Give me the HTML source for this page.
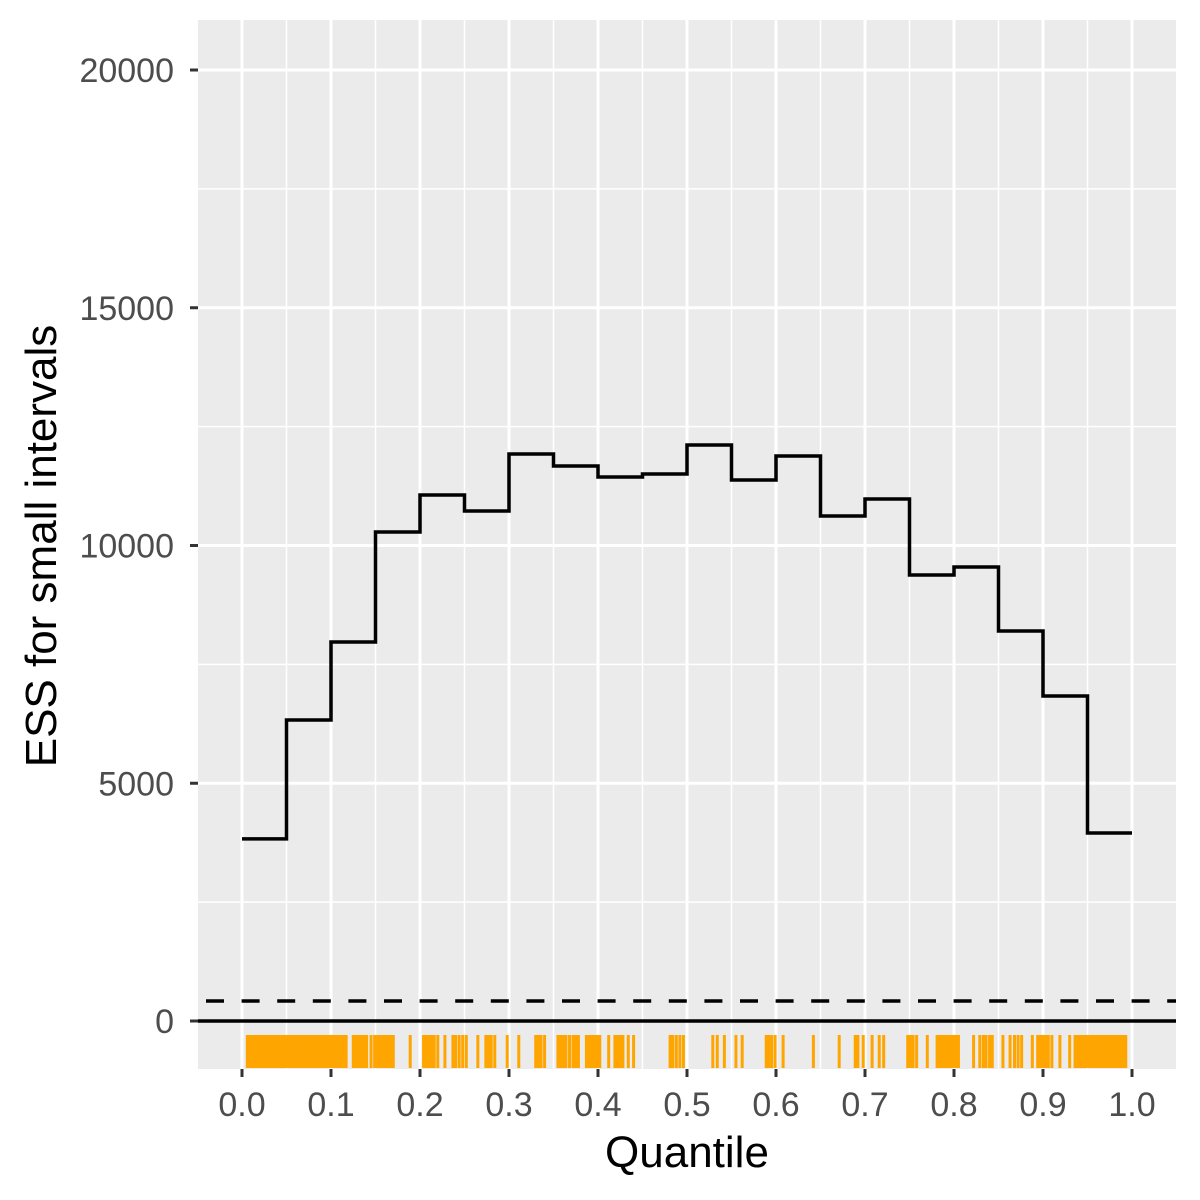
<!DOCTYPE html>
<html><head><meta charset="utf-8"><style>
html,body{margin:0;padding:0;background:#fff;}
svg{display:block;font-family:"Liberation Sans",sans-serif;}
</style></head><body>
<svg id="chart" width="1200" height="1200" viewBox="0 0 1200 1200" xmlns="http://www.w3.org/2000/svg">
<rect x="198" y="20" width="978" height="1049" fill="#ebebeb"/>
<g id="grid"></g>
<g id="marks"></g>
<g id="axes"></g>
<text x="687" y="1167" font-size="44" text-anchor="middle" fill="#000">Quantile</text>
<text transform="translate(56,546) rotate(-90)" font-size="44" text-anchor="middle" fill="#000">ESS for small intervals</text>
</svg>
<script>
const intervalStarts = [0,0.05,0.1,0.15,0.2,0.25,0.3,0.35,0.4,0.45,0.5,0.55,0.6,0.65,0.7,0.75,0.8,0.85,0.9,0.95];
const essValues = [3830,6330,7970,10284,11062,10726,11924,11672,11440,11504,12114,11377,11882,10620,10978,9380,9548,8202,6835,3954];
const thresholdValue = 420;
const xTicks = [0,0.1,0.2,0.3,0.4,0.5,0.6,0.7,0.8,0.9,1.0];
const xTickLabels = ["0.0","0.1","0.2","0.3","0.4","0.5","0.6","0.7","0.8","0.9","1.0"];
const yTicks = [0,5000,10000,15000,20000];
const yTickLabels = ["0","5000","10000","15000","20000"];
const rugValues = [
0.006,0.009,0.012,0.015,0.018,0.021,0.024,0.027,0.030,0.033,0.036,0.039,0.042,0.045,0.048,0.051,0.054,0.057,0.060,0.063,0.066,0.069,0.072,0.075,0.078,0.081,0.084,0.087,0.090,0.093,0.096,0.099,0.102,0.105,0.108,0.111,0.114,0.117,
0.125,0.128,0.131,0.134,0.137,0.140,0.145,0.149,0.152,0.155,0.158,0.161,0.164,0.167,0.170,0.189,
0.204,0.207,0.210,0.213,0.216,0.220,0.228,0.237,0.240,0.244,0.248,0.252,0.265,0.274,0.277,0.280,0.284,0.298,0.311,0.330,0.333,0.336,0.340,
0.355,0.358,0.361,0.364,0.368,0.372,0.375,0.378,0.387,0.390,0.393,0.396,0.399,0.402,0.412,0.419,0.422,0.425,0.428,0.434,0.440,
0.481,0.484,0.488,0.492,0.496,0.529,0.534,0.542,0.555,0.562,0.589,0.592,0.595,0.599,0.608,0.642,0.671,0.689,0.692,0.698,0.708,0.716,0.721,
0.748,0.751,0.754,0.758,0.770,0.781,0.784,0.787,0.790,0.793,0.796,0.799,0.802,0.805,0.822,0.829,0.833,0.836,0.840,0.843,0.855,0.863,0.868,0.872,0.876,0.888,
0.894,0.897,0.900,0.903,0.906,0.910,0.919,0.930,0.936,0.939,0.942,0.945,0.948,0.951,0.954,0.957,0.960,0.963,0.966,0.969,0.972,0.975,0.978,0.981,0.984,0.987,0.990,0.993
];
const NS="http://www.w3.org/2000/svg";
function xs(v){return 242+v*890;}
function ys(v){return 1021-v*0.04755;}
function mk(tag,attrs,parent){const e=document.createElementNS(NS,tag);for(const k in attrs)e.setAttribute(k,attrs[k]);parent.appendChild(e);return e;}
const grid=document.getElementById('grid'),marks=document.getElementById('marks'),axes=document.getElementById('axes');
for(let i=0;i<xTicks.length-1;i++){const v=(xTicks[i]+xTicks[i+1])/2;const l=mk('line',{x1:xs(v),x2:xs(v),y1:20,y2:1069,stroke:'#fff','stroke-width':1.5},grid);

}
for(let i=0;i<yTicks.length-1;i++){const v=(yTicks[i]+yTicks[i+1])/2;const l=mk('line',{x1:198,x2:1176,y1:ys(v),y2:ys(v),stroke:'#fff','stroke-width':1.5},grid);

}
xTicks.forEach((v,i)=>{const l=mk('line',{x1:xs(v),x2:xs(v),y1:20,y2:1069,stroke:'#fff','stroke-width':3},grid);


const t=mk('line',{x1:xs(v),x2:xs(v),y1:1069,y2:1077,stroke:'#333','stroke-width':3},axes);


const tx=mk('text',{x:xs(v),y:1116,'font-size':34,'text-anchor':'middle',fill:'#4d4d4d'},axes);tx.textContent=xTickLabels[i];

});
yTicks.forEach((v,i)=>{const l=mk('line',{x1:198,x2:1176,y1:ys(v),y2:ys(v),stroke:'#fff','stroke-width':3},grid);


const t=mk('line',{x1:190,x2:198,y1:ys(v),y2:ys(v),stroke:'#333','stroke-width':3},axes);


const tx=mk('text',{x:174,y:ys(v)+12,'font-size':34,'text-anchor':'end',fill:'#4d4d4d'},axes);tx.textContent=yTickLabels[i];

});
rugValues.forEach(v=>{const r=mk('line',{x1:xs(v),x2:xs(v),y1:1035,y2:1068,stroke:'#ffa500','stroke-width':3},marks);

});
const z=mk('line',{x1:198,x2:1176,y1:ys(0),y2:ys(0),stroke:'#000','stroke-width':3.5},marks);


const d=mk('line',{x1:198,x2:1176,y1:ys(thresholdValue),y2:ys(thresholdValue),stroke:'#000','stroke-width':3.5,'stroke-dasharray':'18 17.6','stroke-dashoffset':'-8'},marks);


let dstr='';
intervalStarts.forEach((s,i)=>{const e=(i+1<intervalStarts.length)?intervalStarts[i+1]:1;
dstr+=(i===0?'M':'L')+xs(s)+','+ys(essValues[i])+' L'+xs(e)+','+ys(essValues[i])+' ';});
const p=mk('path',{d:dstr,fill:'none',stroke:'#000','stroke-width':3.5},marks);


</script>
</body></html>
